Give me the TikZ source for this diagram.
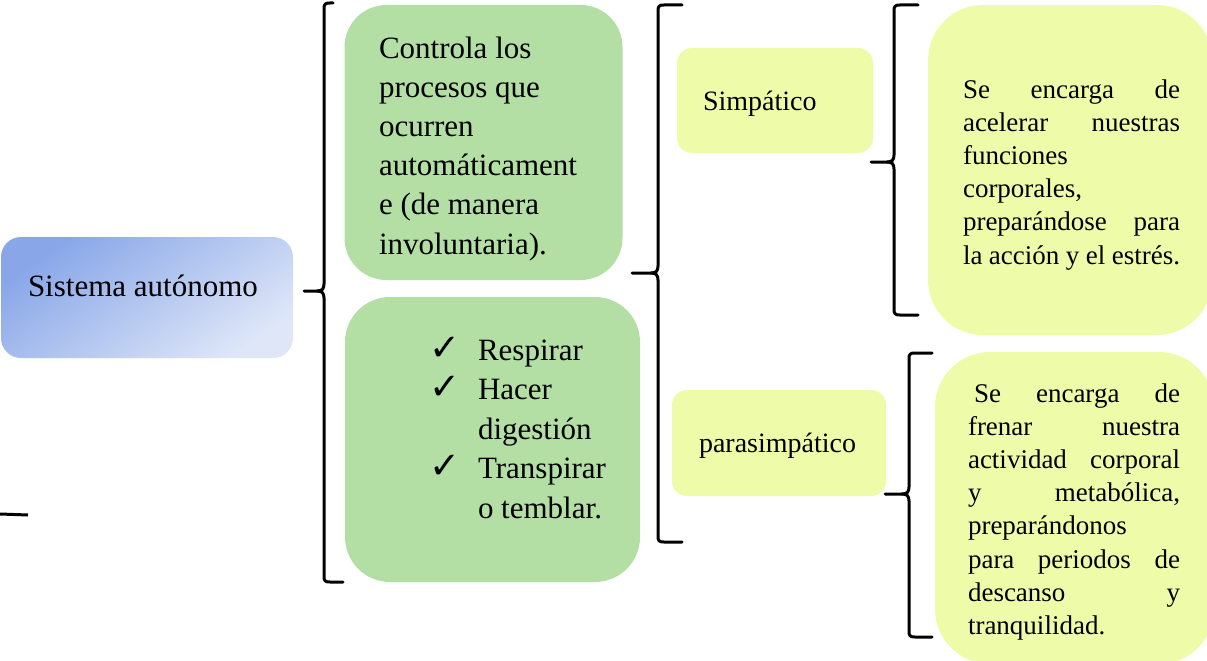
\documentclass[tikz,border=0pt]{standalone}
\usepackage{fontspec}
\setmainfont{Liberation Serif}
\newfontfamily\symfont{DejaVu Sans}
\definecolor{gbox}{RGB}{179,223,165}
\definecolor{ybox}{RGB}{238,252,170}
\definecolor{bdark}{RGB}{136,166,232}
\definecolor{blight}{RGB}{222,230,248}
\newcommand{\drawbrace}[7]{% xv, ytop, ybot, ynotch, xtip, xendtop, xendbot
  \draw[bracestroke] (#6,#2) -- (#1+6,#2) .. controls (#1+1,#2) and (#1,#2+1) .. (#1,#2+6) -- (#1,#4-7) .. controls (#1,#4-2) and (#1-2,#4) .. (#1-7,#4) -- (#5,#4);
  \draw[bracestroke] (#1-7,#4) .. controls (#1-2,#4) and (#1,#4+2) .. (#1,#4+7) -- (#1,#3-6) .. controls (#1,#3-1) and (#1+1,#3) .. (#1+6,#3) -- (#7,#3);
}
\newcommand{\chk}{\makebox[45pt][l]{\hspace*{-4pt}\symfont\fontsize{37}{37}\selectfont ✓}}
\begin{document}
\begin{tikzpicture}[x=1pt,y=-1pt,
  box/.style={draw=none, inner sep=0pt, outer sep=0pt},
  gbx/.style={box, fill=gbox},
  ybx/.style={box, fill=ybox},
  bracestroke/.style={line width=3pt, line cap=round, line join=round, black},
  txt/.style={inner sep=0pt, outer sep=0pt},
  bigfont/.style={font=\fontsize{31}{39.2}\selectfont},
  midfont/.style={font=\fontsize{28}{33}\selectfont},
  smallfont/.style={font=\fontsize{27}{33.2}\selectfont}]
\useasboundingbox (0,0) rectangle (1207,661);
\clip (0,0) rectangle (1207,661);
% boxes
\node[box, rounded corners=20pt, top color=bdark, bottom color=blight, shading angle=35,
  minimum width=292pt, minimum height=121pt] (sa) at (147,297.5) {};
\node[gbx, rounded corners=42pt, minimum width=278pt, minimum height=275pt] (g1) at (483.5,142.5) {};
\node[gbx, rounded corners=45pt, minimum width=295pt, minimum height=285pt] (g2) at (492.5,439.5) {};
\node[ybx, rounded corners=15pt, minimum width=196pt, minimum height=105pt] (simp) at (775,100.5) {};
\node[ybx, rounded corners=15pt, minimum width=214pt, minimum height=106pt] (para) at (779,443) {};
\node[ybx, rounded corners=55pt, minimum width=284pt, minimum height=330pt] (y1) at (1070,170) {};
\node[ybx, rounded corners=55pt, minimum width=279pt, minimum height=312pt] (y2) at (1074.5,508) {};
% texts
\node[txt, bigfont, anchor=base west] (tsa) at (28,296) {Sistema autónomo};
\node[txt, bigfont, anchor=north west, align=left] (tg1) at (379,30.6)
  {\strut Controla los\\procesos que\\ocurren\\automáticament\\e (de manera\\involuntaria).};
\node[txt, font=\fontsize{31}{39.5}\selectfont, anchor=north west, align=left] (tg2) at (433,332.4)
  {\strut\chk Respirar\\
   \chk Hacer\\
   \hspace*{45pt}digestión\\
   \chk Transpirar\\
   \hspace*{45pt}o temblar.};
\node[txt, midfont, anchor=base west] (tsimp) at (703,110) {Simpático};
\node[txt, midfont, anchor=base west] (tpara) at (699,452) {parasimpático};
\node[txt, smallfont, anchor=north west, align=left] (ty1) at (963,74.8)
  {\strut\hbox to 217pt{Se\hfill encarga\hfill de}\\
   \hbox to 217pt{acelerar\hfill nuestras}\\
   funciones\\
   corporales,\\
   \hbox to 217pt{preparándose\hfill para}\\
   \hbox to 217pt{la acción y el estrés.}};
\node[txt, smallfont, anchor=north west, align=left] (ty2) at (968,378.8)
  {\strut\hspace*{6pt}\hbox to 206pt{Se\hfill encarga\hfill de}\\
   \hbox to 212pt{frenar\hfill nuestra}\\
   \hbox to 212pt{actividad\hfill corporal}\\
   \hbox to 212pt{y\hfill metabólica,}\\
   preparándonos\\
   \hbox to 212pt{para\hfill periodos\hfill de}\\
   \hbox to 212pt{descanso\hfill y}\\
   tranquilidad.};
% braces
\drawbrace{324}{3}{582}{291}{304}{333}{343}
\drawbrace{658}{5}{542}{273}{632}{682}{682}
\drawbrace{894}{5}{315}{162}{871}{918}{918}
\drawbrace{909}{353}{637}{494}{885}{932}{932}
\coordinate (s0) at (0,514);
\coordinate (s1) at (28,515);
\draw[bracestroke, line cap=butt] (s0) -- (s1);
\end{tikzpicture}
\end{document}
